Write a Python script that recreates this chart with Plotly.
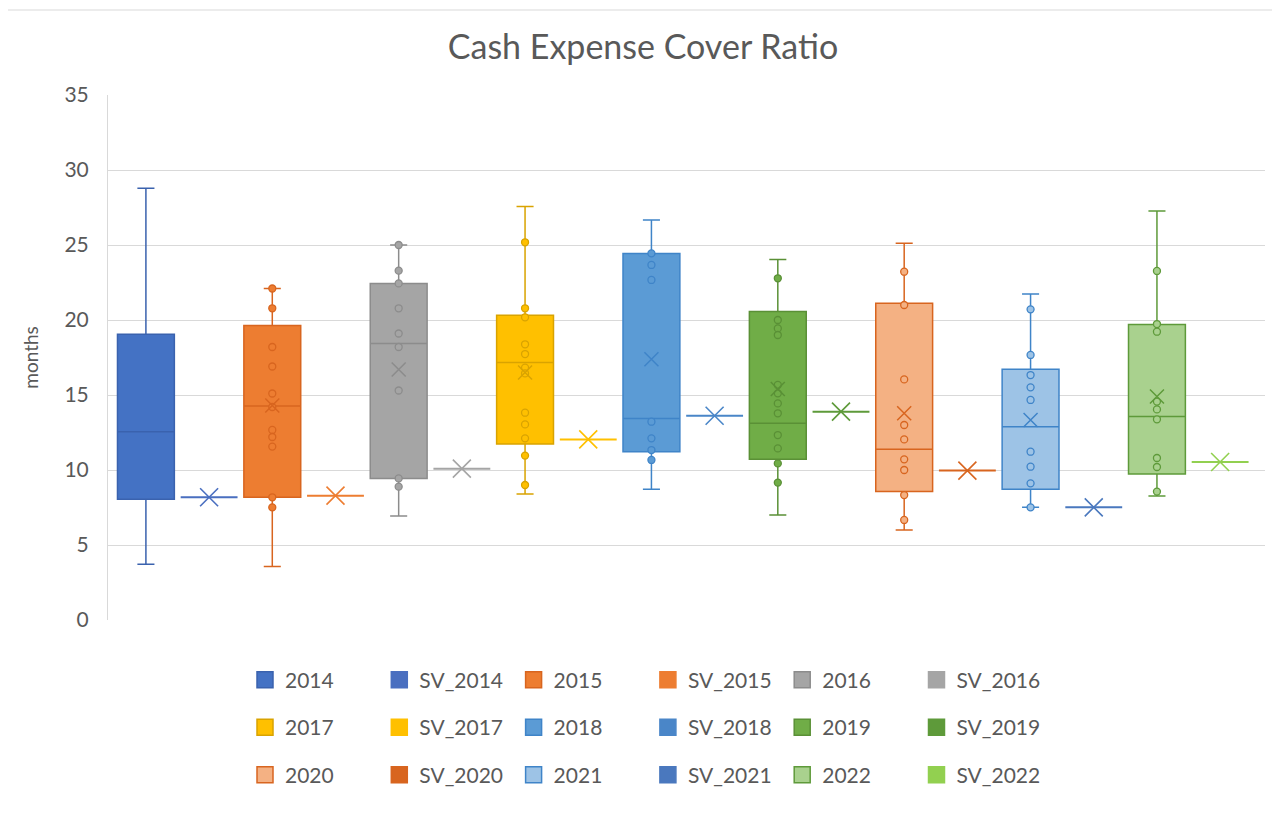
import plotly.graph_objects as go

# ---------------- data (months) ----------------
years = ["2014", "2015", "2016", "2017", "2018", "2019", "2020", "2021", "2022"]
sv_names = ["SV_" + y for y in years]

q1 = [8.05, 8.18, 9.44, 11.73, 11.22, 10.71, 8.56, 8.71, 9.73]
median = [12.55, 14.27, 18.44, 17.16, 13.44, 13.11, 11.38, 12.89, 13.56]
q3 = [19.05, 19.64, 22.44, 20.31, 24.44, 20.56, 21.11, 16.71, 19.70]
low_whisker = [3.71, 3.56, 6.93, 8.40, 8.71, 7.00, 6.00, 7.51, 8.27]
high_whisker = [28.78, 22.10, 25.00, 27.56, 26.67, 24.04, 25.11, 21.73, 27.27]
means = [None, 14.30, 16.70, 16.50, 17.38, 15.40, 13.78, 13.33, 14.90]

points = {
    "2014": [],
    "2015": [22.10, 20.78, 18.20, 16.90, 15.10, 14.20, 12.67, 12.20, 11.56, 8.18, 7.51],
    "2016": [25.00, 23.29, 22.44, 20.78, 19.10, 18.20, 15.30, 9.44, 8.89],
    "2017": [25.18, 20.78, 20.18, 18.38, 17.73, 16.82, 16.44, 13.82, 13.04, 12.11, 10.96, 9.00],
    "2018": [24.44, 23.67, 22.67, 13.22, 12.11, 11.33, 10.67],
    "2019": [22.78, 20.00, 19.44, 19.00, 15.67, 15.11, 14.44, 13.78, 12.33, 11.44, 10.44, 9.16],
    "2020": [23.22, 21.00, 16.04, 13.00, 12.04, 10.71, 10.00, 8.33, 6.67],
    "2021": [20.71, 17.67, 16.33, 15.51, 14.67, 11.22, 10.22, 9.11, 7.51],
    "2022": [23.27, 19.73, 19.22, 14.56, 14.04, 13.38, 10.80, 10.20, 8.56],
}

sv_values = [8.18, 8.29, 10.09, 12.04, 13.62, 13.89, 9.96, 7.51, 10.53]

# ---------------- styles ----------------
fill_colors = ["#4472C4", "#ED7D31", "#A5A5A5", "#FFC000", "#5B9BD5",
               "#70AD47", "#F4B183", "#9DC3E6", "#A9D18E"]
line_colors = ["#3A62AE", "#D8651F", "#8C8C8C", "#D9A300", "#3F84C8",
               "#5A9036", "#D8651F", "#3F84C8", "#5E9A3A"]
sv_colors = ["#4A6FC0", "#ED7D31", "#A5A5A5", "#FFC000", "#4A86C8",
             "#5E9A3A", "#D8651F", "#4A78BE", "#92D050"]

categories = []
for y, s in zip(years, sv_names):
    categories += [y, s]

# figure geometry (px); the page body adds an 8 px offset on screen
OFF = 8
W, H = 1280, 814
PL, PT, PW, PH = 108 - OFF, 95 - OFF, 1157, 525   # plot area in layout px
ML, MT = PL, PT
MR = W - ML - PW
MB = H - MT - PH

font_fam = "Lato, 'Open Sans', sans-serif"
txt = "#595959"


def paper_x(screen_x):
    return (screen_x - OFF - PL) / PW


def paper_y(screen_y):
    return (PT + PH - (screen_y - OFF)) / PH


fig = go.Figure()
legend_layout = {}


def add_legend_entry(idx, name, fill, edge):
    lid = "legend" if idx == 0 else "legend%d" % (idx + 1)
    col, row = idx % 6, idx // 6
    sx = 245 + col * 134.3
    sy = 680 + row * 47.5
    legend_layout[lid] = dict(
        x=paper_x(sx), y=paper_y(sy), xanchor="left", yanchor="middle",
        orientation="h", bgcolor="rgba(0,0,0,0)",
        font=dict(family=font_fam, size=21, color=txt),
        itemclick=False, itemdoubleclick=False,
    )
    fig.add_trace(go.Scatter(
        x=[None], y=[None], mode="markers", name=name, legend=lid,
        marker=dict(symbol="square", size=16, color=fill,
                    line=dict(color=edge, width=1.5)),
        hoverinfo="skip",
    ))


for i, yr in enumerate(years):
    # main box
    fig.add_trace(go.Box(
        x=[yr], q1=[q1[i]], median=[median[i]], q3=[q3[i]],
        lowerfence=[low_whisker[i]], upperfence=[high_whisker[i]],
        name=yr, boxpoints=False, width=0.9, whiskerwidth=0.3,
        fillcolor=fill_colors[i], line=dict(color=line_colors[i], width=1.5),
        showlegend=False, hoverinfo="skip",
    ))
    pts = points[yr]
    if pts:
        fig.add_trace(go.Scatter(
            x=[yr] * len(pts), y=pts, mode="markers", showlegend=False,
            marker=dict(symbol="circle", size=7, color=fill_colors[i],
                        line=dict(color=line_colors[i], width=1.3)),
            hoverinfo="skip",
        ))
    if means[i] is not None:
        fig.add_trace(go.Scatter(
            x=[yr], y=[means[i]], mode="markers", showlegend=False,
            marker=dict(symbol="x-thin", size=14,
                        line=dict(color=line_colors[i], width=1.5)),
            hoverinfo="skip",
        ))
    # SV single value
    sv = sv_names[i]
    v = sv_values[i]
    fig.add_trace(go.Box(
        x=[sv], q1=[v], median=[v], q3=[v], lowerfence=[v], upperfence=[v],
        name=sv, boxpoints=False, width=0.9, whiskerwidth=0.3,
        fillcolor=sv_colors[i], line=dict(color=sv_colors[i], width=2),
        showlegend=False, hoverinfo="skip",
    ))
    fig.add_trace(go.Scatter(
        x=[sv], y=[v], mode="markers", showlegend=False,
        marker=dict(symbol="x-thin", size=18,
                    line=dict(color=sv_colors[i], width=1.6)),
        hoverinfo="skip",
    ))
    add_legend_entry(2 * i, yr, fill_colors[i], line_colors[i])
    add_legend_entry(2 * i + 1, sv, sv_colors[i], sv_colors[i])

fig.update_layout(
    width=W, height=H,
    margin=dict(l=ML, r=MR, t=MT, b=MB, autoexpand=False),
    paper_bgcolor="white", plot_bgcolor="white",
    title=dict(text="Cash Expense Cover Ratio",
               x=(643 - OFF) / W, xanchor="center",
               y=1 - (47 - OFF) / H, yref="container", yanchor="middle",
               font=dict(family=font_fam, size=34, color=txt)),
    showlegend=True,
    boxmode="overlay",
    xaxis=dict(type="category", categoryorder="array", categoryarray=categories,
               showticklabels=False, showgrid=False, zeroline=False,
               showline=False, ticks="", automargin=False,
               range=[-0.60, len(categories) - 1 + 0.71]),
    yaxis=dict(range=[0, 35], dtick=5, showgrid=True, gridcolor="#D9D9D9",
               gridwidth=1, zeroline=False, showline=True, linecolor="#D9D9D9",
               ticks="", ticklabelstandoff=14, automargin=False,
               tickfont=dict(family=font_fam, size=21, color=txt),
               title=dict(text="months", standoff=20,
                          font=dict(family=font_fam, size=19, color=txt))),
    shapes=[dict(type="rect", xref="paper", yref="paper",
                 x0=paper_x(6), x1=paper_x(1300),
                 y0=paper_y(840), y1=paper_y(10),
                 line=dict(color="#D9D9D9", width=1), layer="below")],
    **legend_layout,
)

fig.write_html("out.html")
